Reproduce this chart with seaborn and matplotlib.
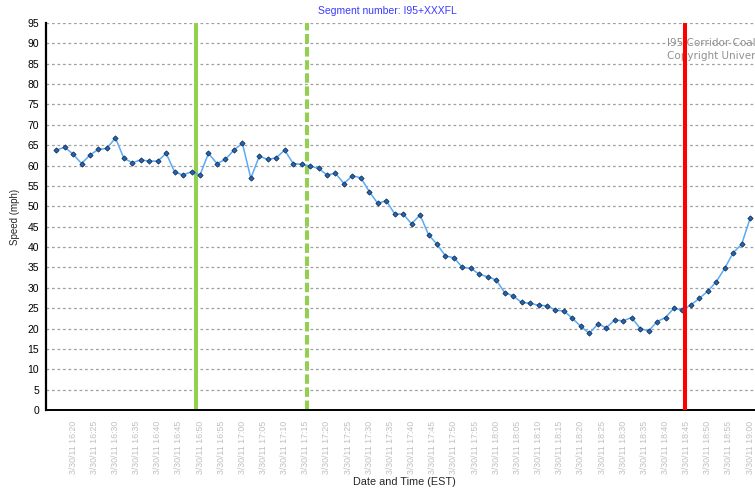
import matplotlib
matplotlib.use("Agg")
import matplotlib.pyplot as plt
import matplotlib.dates as mdates
import seaborn as sns
import pandas as pd
import numpy as np

# speed readings, one every 2 minutes starting 3/30/11 16:16
start_time = "2011-03-30 16:16"
speed_mph = [
    63.8, 64.5, 62.8, 60.5, 62.6, 64.0, 64.2, 66.8, 61.8, 60.7,
    61.4, 61.1, 61.1, 63.0, 58.4, 57.7, 58.5, 57.7, 63.0, 60.5,
    61.5, 63.8, 65.5, 56.9, 62.3, 61.5, 61.9, 63.8, 60.5, 60.3,
    59.9, 59.3, 57.7, 58.1, 55.6, 57.5, 57.0, 53.6, 50.7, 51.4,
    48.1, 48.1, 45.7, 47.9, 43.0, 40.7, 37.8, 37.4, 35.0, 34.8,
    33.3, 32.7, 31.9, 28.8, 28.0, 26.4, 26.2, 25.7, 25.6, 24.5,
    24.3, 22.5, 20.5, 18.8, 21.1, 20.2, 22.1, 21.9, 22.7, 20.0,
    19.4, 21.7, 22.7, 25.0, 24.5, 25.8, 27.4, 29.2, 31.5, 34.8,
    38.6, 40.7, 47.1,
]
times = pd.date_range(start_time, periods=len(speed_mph), freq="2min")

# x tick labels every 5 minutes
tick_times = pd.date_range("2011-03-30 16:20", "2011-03-30 19:05", freq="5min")

# event markers
incident_start = pd.Timestamp("2011-03-30 16:49:00")
incident_detect = pd.Timestamp("2011-03-30 17:15:12")
incident_clear = pd.Timestamp("2011-03-30 18:44:30")

df = pd.DataFrame({"time": times, "speed": speed_mph})

sns.set_style("white")
plt.rcParams["font.family"] = ["Liberation Sans", "DejaVu Sans"]

fig = plt.figure(figsize=(7.55, 4.91), dpi=100)
ax = fig.add_axes([46 / 755, 81 / 491, 738 / 755, 387 / 491])

ax.set_ylim(0, 95)
ax.set_yticks(np.arange(0, 96, 5))
ax.yaxis.grid(True, color="#a0a0a0", linestyle=(0, (2.2, 2.2)), linewidth=0.9)
ax.set_axisbelow(True)

ax.axvline(incident_start, color="#92d050", linewidth=2.9, zorder=1)
ax.axvline(incident_detect, color="#92d050", linewidth=2.9,
           linestyle=(0, (2.35, 0.9)), zorder=1)
ax.axvline(incident_clear, color="#ff0000", linewidth=2.9, zorder=4)

sns.lineplot(data=df, x="time", y="speed", ax=ax, color="#5aaaf5",
             linewidth=1.1, marker="D", markersize=2.7,
             markerfacecolor="#1f66bb", markeredgecolor="#10233f",
             markeredgewidth=0.5, zorder=3)

ax.set_xlim(pd.Timestamp("2011-03-30 16:13:36"), pd.Timestamp("2011-03-30 19:08:00"))
ax.set_xticks(tick_times)
ax.xaxis.set_major_formatter(mdates.DateFormatter("3/30/11 %H:%M"))
ax.tick_params(axis="x", labelrotation=90, labelsize=6.3, labelcolor="#c0c0c0",
               length=3, width=0.8, color="#404040", pad=5)
ax.tick_params(axis="y", labelsize=7.5, labelcolor="black",
               length=3, width=0.8, color="black", pad=2)
ax.set_xlabel("")
ax.set_ylabel("")

for side in ["top", "right"]:
    ax.spines[side].set_visible(False)
ax.spines["left"].set_color("black")
ax.spines["left"].set_linewidth(1.6)
ax.spines["bottom"].set_color("black")
ax.spines["bottom"].set_linewidth(1.4)

fig.text(387 / 755, 1 - 11 / 491, "Segment number: I95+XXXFL", color="#3a3aff",
         fontsize=7.5, ha="center", va="center")
fig.text(15 / 755, 1 - 217 / 491, "Speed (mph)", rotation=90, fontsize=7,
         ha="center", va="center")
fig.text(404 / 755, 1 - 482 / 491, "Date and Time (EST)", fontsize=7.8,
         ha="center", va="center")
ax.text(667 / 755, 1 - 38 / 491, "I95 Corridor Coalition\nCopyright University of Maryland",
        transform=fig.transFigure, color="#909090", fontsize=7.5,
        family=["DejaVu Sans"], ha="left", va="top", linespacing=1.35, zorder=2)

fig.savefig("out.png", dpi=100)
